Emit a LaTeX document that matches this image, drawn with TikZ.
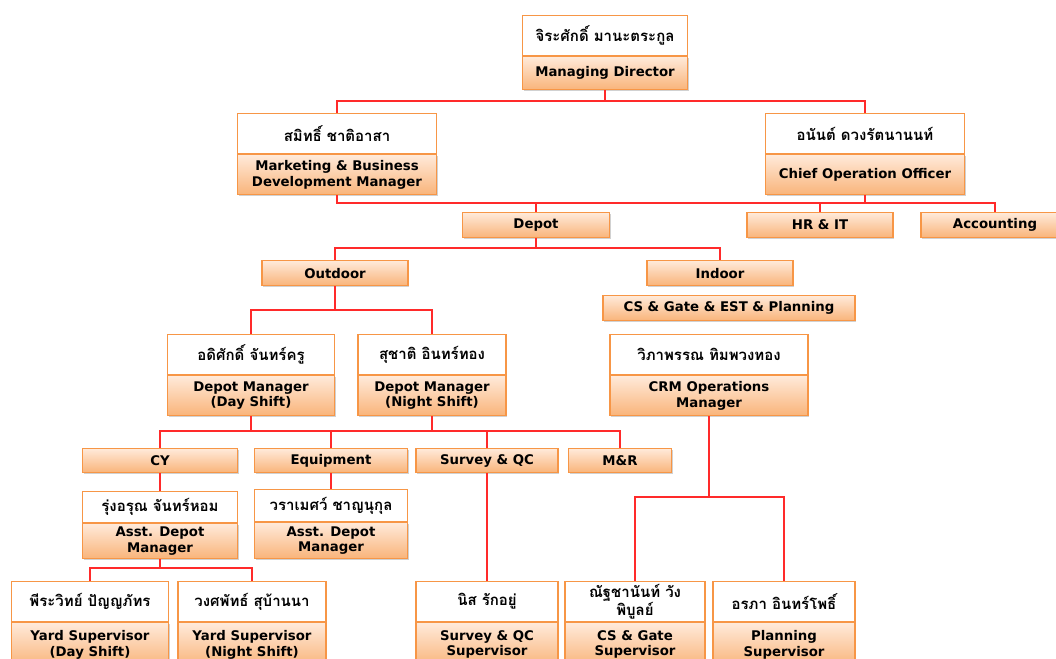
\documentclass[tikz,border=0pt]{standalone}
\usepackage{fontspec}
\setmainfont{DejaVu Sans}
\newfontfamily\thaifont[Script=Thai]{Loma}
\usetikzlibrary{positioning,shadows}

\definecolor{boxLine}{HTML}{F79646}
\definecolor{roleTop}{HTML}{FFEADA}
\definecolor{roleBottom}{HTML}{F9B47A}
\definecolor{linkRed}{HTML}{FF2A2A}

\begin{document}
\begin{tikzpicture}[
    x=1pt, y=-1pt,
    nameBox/.style={
        rectangle, draw=boxLine, line width=1.1pt, fill=white,
        minimum width=#1, minimum height=40pt, align=center, inner sep=2pt,
        font=\thaifont\bfseries\fontsize{15}{16}\selectfont
    },
    nameBox/.default=146pt,
    roleBox/.style={
        rectangle, draw=boxLine, line width=1.1pt,
        top color=roleTop, bottom color=roleBottom,
        drop shadow={shadow xshift=1.2pt, shadow yshift=-1.5pt, opacity=0.3, fill=black!60},
        minimum width=#1, minimum height=40pt, align=center, inner sep=2pt,
        font=\bfseries\fontsize{13.3}{15.5}\selectfont
    },
    roleBox/.default=146pt,
    unitBox/.style={roleBox=#1, minimum height=25pt},
    unitBox/.default=146pt,
    link/.style={draw=linkRed, line width=1.6pt}
]
\useasboundingbox (0,0) rectangle (1056,658);
\clip (0,0) rectangle (1056,658);

% Top: Managing Director
\node[nameBox=165pt, anchor=north] (mdName) at (605,15) {จิระศักดิ์ มานะตระกูล};
\node[roleBox=165pt, minimum height=33pt, below=0pt of mdName] (mdRole) {Managing Director};

% Level 2: Marketing and COO
\node[nameBox=199pt, anchor=north] (mktName) at (337,113) {สมิทธิ์ ชาติอาสา};
\node[roleBox=199pt, below=0pt of mktName] (mktRole) {Marketing \& Business\\Development Manager};

\node[nameBox=199pt, anchor=north] (cooName) at (865,113) {อนันต์  ดวงรัตนานนท์};
\node[roleBox=199pt, below=0pt of cooName] (cooRole) {Chief Operation Officer};

% Level 3: units
\node[unitBox=147pt, anchor=north] (depot) at (536,212) {Depot};
\node[unitBox=146pt, anchor=north] (hrit) at (820,212) {HR \& IT};
\node[unitBox=148pt, anchor=north] (acct) at (995,212) {Accounting};

% Level 4: Outdoor / Indoor
\node[unitBox=146pt, anchor=north] (outdoor) at (335,260) {Outdoor};
\node[unitBox=146pt, anchor=north] (indoor) at (720,260) {Indoor};
\node[unitBox=252pt, anchor=north] (csGate) at (729,295) {CS \& Gate \& EST \& Planning};

% Level 5: depot managers and CRM
\node[nameBox=167pt, anchor=north] (dayName) at (251,334) {อดิศักดิ์ จันทร์ครู};
\node[roleBox=167pt, below=0pt of dayName] (dayRole) {Depot Manager\\(Day Shift)};

\node[nameBox=148pt, anchor=north] (nightName) at (432,334) {สุชาติ อินทร์ทอง};
\node[roleBox=148pt, below=0pt of nightName] (nightRole) {Depot Manager\\(Night Shift)};

\node[nameBox=198pt, anchor=north] (crmName) at (709,334) {วิภาพรรณ ทิมพวงทอง};
\node[roleBox=198pt, below=0pt of crmName] (crmRole) {CRM Operations\\Manager};

% Level 6: sections
\node[unitBox=155pt, minimum height=24pt, anchor=north] (cy) at (160,448) {CY};
\node[unitBox=153pt, minimum height=24pt, anchor=north] (equip) at (331,448) {Equipment};
\node[unitBox=142pt, minimum height=24pt, anchor=north] (survey) at (487,448) {Survey \& QC};
\node[unitBox=103pt, minimum height=24pt, anchor=north] (mr) at (620,448) {M\&R};

% Level 7: assistant managers
\node[nameBox=155pt, minimum height=31pt, anchor=north] (asstCyName) at (160,491) {รุ่งอรุณ จันทร์หอม};
\node[roleBox=155pt, minimum height=35pt, below=0pt of asstCyName] (asstCyRole) {Asst. Depot\\Manager};

\node[nameBox=153pt, minimum height=32pt, anchor=north] (asstEqName) at (331,489) {วราเมศว์ ชาญนุกุล};
\node[roleBox=153pt, minimum height=36pt, below=0pt of asstEqName] (asstEqRole) {Asst. Depot\\Manager};

% Bottom: supervisors
\node[nameBox=157pt, anchor=north] (yardDayName) at (90,581) {พีระวิทย์ ปัญญภัทร};
\node[roleBox=157pt, minimum height=44pt, below=0pt of yardDayName] (yardDayRole) {Yard Supervisor\\(Day Shift)};

\node[nameBox=148pt, anchor=north] (yardNightName) at (252,581) {วงศพัทธ์ สุบ้านนา};
\node[roleBox=148pt, minimum height=44pt, below=0pt of yardNightName] (yardNightRole) {Yard Supervisor\\(Night Shift)};

\node[nameBox=142pt, anchor=north] (surveySupName) at (487,581) {นิส รักอยู่};
\node[roleBox=142pt, minimum height=44pt, below=0pt of surveySupName] (surveySupRole) {Survey \& QC\\Supervisor};

\node[nameBox=140pt, anchor=north] (csSupName) at (635,581) {ณัฐชานันท์ วัง\\พิบูลย์};
\node[roleBox=140pt, minimum height=44pt, below=0pt of csSupName] (csSupRole) {CS \& Gate\\Supervisor};

\node[nameBox=142pt, anchor=north] (planSupName) at (784,581) {อรภา อินทร์โพธิ์};
\node[roleBox=142pt, minimum height=44pt, below=0pt of planSupName] (planSupRole) {Planning\\Supervisor};

% Bus lines
\coordinate (busA) at (0,101);
\coordinate (busB) at (0,203);
\coordinate (busC) at (0,248);
\coordinate (busD) at (0,310);
\coordinate (busE) at (0,431);
\coordinate (busF) at (0,568);
\coordinate (busG) at (0,497);

% Connectors
\draw[link] (mdRole.south) -- (mdRole.south |- busA);
\draw[link] (mktName.north) |- (busA -| cooName.north) -- (cooName.north);

\draw[link] (mktRole.south) |- (busB -| acct.north) -- (acct.north);
\draw[link] (cooRole.south) -- (cooRole.south |- busB);
\draw[link] (depot.north) -- (depot.north |- busB);
\draw[link] (hrit.north) -- (hrit.north |- busB);

\draw[link] (depot.south) -- (depot.south |- busC);
\draw[link] (outdoor.north) |- (busC -| indoor.north) -- (indoor.north);

\draw[link] (outdoor.south) -- (outdoor.south |- busD);
\draw[link] (dayName.north) |- (busD -| nightName.north) -- (nightName.north);

\draw[link] (dayRole.south) -- (dayRole.south |- busE);
\draw[link] (nightRole.south) -- (nightRole.south |- busE);
\draw[link] (cy.north) |- (busE -| mr.north) -- (mr.north);
\draw[link] (equip.north) -- (equip.north |- busE);
\draw[link] (survey.north) -- (survey.north |- busE);

\draw[link] (cy.south) -- (asstCyName.north);
\draw[link] (equip.south) -- (asstEqName.north);
\draw[link] (survey.south) -- (surveySupName.north);

\draw[link] (asstCyRole.south) -- (asstCyRole.south |- busF);
\draw[link] (yardDayName.north) |- (busF -| yardNightName.north) -- (yardNightName.north);

\draw[link] (crmRole.south) -- (crmRole.south |- busG);
\draw[link] (csSupName.north) |- (busG -| planSupName.north) -- (planSupName.north);

\end{tikzpicture}
\end{document}
